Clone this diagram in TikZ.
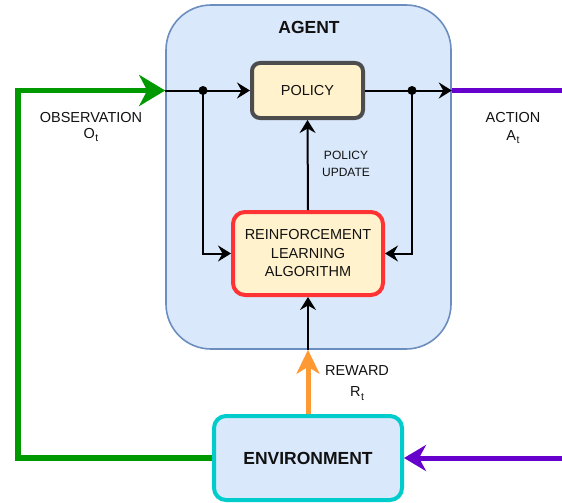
\documentclass[tikz,border=0pt]{standalone}
\usepackage{fontspec}
\setmainfont{Liberation Sans}
\usetikzlibrary{arrows.meta}
\definecolor{agentfill}{HTML}{DAE8FC}
\definecolor{agentline}{HTML}{6C8EBF}
\definecolor{notefill}{HTML}{FFF2CC}
\definecolor{policyline}{HTML}{4D4D4D}
\definecolor{rlline}{HTML}{FF3333}
\definecolor{envline}{HTML}{00CCCC}
\definecolor{obsgreen}{HTML}{009900}
\definecolor{actpurple}{HTML}{6600CC}
\definecolor{rewardorange}{HTML}{FF9933}
\definecolor{ink}{HTML}{111111}
\newcommand\lowidx[1]{\raisebox{-0.45ex}{\fontsize{10.5}{10}\selectfont\kern0.5pt #1}}
\begin{document}
\begin{tikzpicture}[x=1pt,y=-1pt,
  txt/.style={font=\fontsize{14.5}{18.5}\selectfont, text=ink, align=center, inner sep=0pt},
  smalltxt/.style={font=\fontsize{12}{16.5}\selectfont, text=ink, align=center, inner sep=0pt},
  boldtxt/.style={font=\fontsize{17.5}{20}\selectfont\bfseries, text=ink, align=center, inner sep=0pt},
  agentbox/.style={draw=agentline, fill=agentfill, line width=1.6pt, rounded corners=45pt,
    minimum width=285pt, minimum height=344pt, inner sep=0pt},
  policybox/.style={txt, draw=policyline, fill=notefill, line width=4pt, rounded corners=8pt,
    minimum width=111pt, minimum height=55pt},
  rlbox/.style={txt, draw=rlline, fill=notefill, line width=4pt, rounded corners=12pt,
    minimum width=150pt, minimum height=83pt},
  envbox/.style={boldtxt, draw=envline, fill=agentfill, line width=4pt, rounded corners=12pt,
    minimum width=188pt, minimum height=84pt},
  conn/.style={draw=black, line width=2pt},
  tip/.style={-{Stealth[length=13pt,width=16pt,inset=4.5pt]}},
  dot/.style={circle, fill=black, inner sep=0pt, minimum size=9pt},
  obsline/.style={draw=obsgreen, line width=5.5pt, -{Stealth[length=26pt,width=31pt,inset=8pt]}},
  actline/.style={draw=actpurple, line width=5pt},
  acttip/.style={-{Stealth[length=22pt,width=26pt,inset=7pt]}},
  rewline/.style={draw=rewardorange, line width=5pt, -{Stealth[length=24pt,width=23pt,inset=7pt]}}
]
\useasboundingbox (0,0) rectangle (562,503);

% agent container and its inner blocks
\node[agentbox] (agent) at (308.5,177) {};
\node[boldtxt] (agentlbl) at (309,27) {AGENT};
\node[policybox] (policy) at (307.5,90.5) {POLICY};
\node[rlbox] (rl) at (308,253.5) {REINFORCEMENT\\LEARNING\\ALGORITHM};
\node[envbox] (env) at (308,458) {ENVIRONMENT};

% branch points on the main signal line
\node[dot] (d1) at (203,90.5) {};
\node[dot] (d2) at (412,90.5) {};

% boundary points where signals cross the agent border
\coordinate (inL) at (agent.west |- policy.west);
\coordinate (outR) at (agent.east |- policy.east);
\coordinate (rw) at (rl.south |- agent.south);

% free ends at the picture border and the loop corners
\coordinate (edgeTop) at (562,90.5);
\coordinate (edgeBot) at (562,458);
\coordinate (gBot) at (18,458);
\coordinate (gTop) at (18,90.5);

% inside the agent
\draw[conn,tip] (inL) -- (policy.west);
\draw[conn,tip] (policy.east) -- (outR);
\draw[conn,tip] (d1.center) |- (rl.west);
\draw[conn,tip] (d2.center) |- (rl.east);
\draw[conn,tip] (rl.north) -- (policy.south);
\draw[conn,tip] (rw) -- (rl.south);

% loop through the environment
\draw[obsline] (env.west) -- (gBot) -- (gTop) -- (inL);
\draw[actline] (outR) -- (edgeTop);
\draw[actline,acttip] (edgeBot) -- (env.east);
\draw[rewline] (env.north) -- (rw);

% signal labels
\node[txt, font=\fontsize{14.5}{16.5}\selectfont] (obslbl) at (91,127) {OBSERVATION\\O\lowidx{t}};
\node[txt, font=\fontsize{14.5}{17.5}\selectfont] (actlbl) at (513,128) {ACTION\\A\lowidx{t}};
\node[txt, font=\fontsize{14.5}{21}\selectfont] (rewlbl) at (357,383) {REWARD\\R\lowidx{t}};
\node[smalltxt] (updlbl) at (346,164) {POLICY\\UPDATE};
\end{tikzpicture}
\end{document}
